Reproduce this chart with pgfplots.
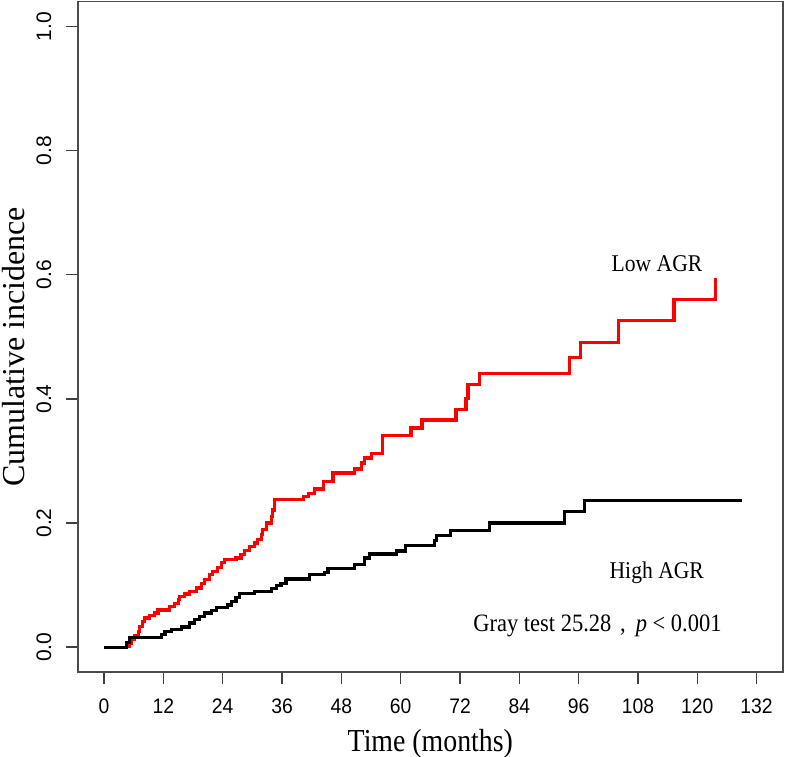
\documentclass[border=0pt]{standalone}
\usepackage{pgfplots}
\pgfplotsset{compat=1.18}
\usepackage{fontspec}
\setmainfont{Liberation Serif}
\newfontfamily\ticksans{Liberation Sans}
\newfontfamily\ticksansx[FakeStretch=0.92]{Liberation Sans}
\newfontfamily\labserif[FakeStretch=0.87]{Liberation Serif}
\newfontfamily\annserif[FakeStretch=0.9]{Liberation Serif}
\definecolor{lowred}{RGB}{255,0,0}
\begin{document}
\begin{tikzpicture}
\begin{axis}[
  name=ax,
  scale only axis,
  width=352.35pt, height=335.15pt,
  xmin=-5.28, xmax=137.28,
  ymin=-0.04, ymax=1.04,
  xtick={0,12,...,132},
  ytick={0,0.2,0.4,0.6,0.8,1},
  yticklabels={0.0,0.2,0.4,0.6,0.8,1.0},
  tick pos=left,
  tick align=outside,
  major tick length=6pt,
  every tick/.style={black!75, line width=0.7pt},
  axis line style={black!70, line width=0.8pt},
  /pgf/number format/assume math mode=true,
  xticklabel style={font=\ticksansx\fontsize{10.5}{12}\selectfont, anchor=center, yshift=-11pt},
  yticklabel style={font=\ticksans\fontsize{10.5}{12}\selectfont, xshift=-11pt, rotate=90, anchor=center},
  xlabel={Time (months)},
  ylabel={Cumulative incidence},
  xlabel style={font=\labserif\fontsize{16}{19}\selectfont, anchor=center, at={(axis description cs:0.5,0)}, yshift=-36pt},
  ylabel style={font=\fontsize{16}{19}\selectfont, anchor=center, at={(axis description cs:0,0.5)}, yshift=32pt, xshift=-5pt},
]
\addplot[const plot, lowred, line width=1.6pt] table {
t v
0 0
4.5 0.002
5.05 0.0067
5.5 0.013
6.2 0.0185
6.9 0.0255
7.2 0.0335
7.75 0.0416
8.2 0.047
9.2 0.0507
10.2 0.055
10.9 0.060
13.3 0.066
14.3 0.071
15.0 0.0765
15.3 0.082
16.3 0.0857
17.3 0.090
18.7 0.0953
19.7 0.102
20.3 0.109
21.4 0.117
22.0 0.122
23.0 0.129
23.7 0.1366
24.4 0.141
26.7 0.1436
27.7 0.149
28.4 0.156
29.4 0.162
30.4 0.168
31.1 0.174
31.8 0.181
32.1 0.189
32.8 0.200
33.8 0.2106
34.1 0.221
34.5 0.2375
40.3 0.2428
41.4 0.248
42.6 0.2547
44.4 0.267
46.3 0.2805
50.7 0.287
52.0 0.2966
52.7 0.3047
54.1 0.3127
56.4 0.341
62.1 0.353
64.3 0.366
71.2 0.3835
73.2 0.401
73.6 0.4227
75.9 0.4415
94.1 0.467
96.4 0.4915
104.0 0.5263
115.3 0.5596
123.7 0.5945
};
\addplot[const plot, black, line width=1.6pt] table {
t v
0 0
4.5 0.008
5.2 0.0158
11.6 0.021
12.3 0.025
13.6 0.029
15.6 0.0325
17.3 0.039
18.3 0.044
19.3 0.050
20.3 0.055
21.7 0.059
22.7 0.064
25.0 0.068
25.7 0.074
26.7 0.080
27.4 0.086
30.4 0.090
33.8 0.095
34.8 0.099
35.8 0.103
36.8 0.110
41.5 0.1165
44.6 0.120
45.3 0.1264
50.6 0.1328
52.7 0.1436
53.7 0.150
59.2 0.155
61.0 0.1634
66.8 0.172
67.2 0.180
70.0 0.1885
78.0 0.200
93.1 0.218
97.2 0.236
129.0 0.236
};
\node[font=\annserif\fontsize{12}{14}\selectfont, anchor=base, inner sep=0pt] at (axis cs:111.85,0.605) {Low AGR};
\node[font=\annserif\fontsize{12}{14}\selectfont, anchor=base, inner sep=0pt] at (axis cs:111.8,0.111) {High AGR};
\node[font=\annserif\fontsize{12.5}{14}\selectfont, anchor=base east, inner sep=0pt] at (axis cs:125.0,0.0254) {Gray test 25.28\hspace{0.35em},\hspace{0.4em}\textit{p} < 0.001};
\end{axis}
\pgfresetboundingbox
\path[use as bounding box] ([xshift=-39pt,yshift=-42pt]ax.south west) rectangle ([xshift=2.15pt,yshift=0.85pt]ax.north east);
\end{tikzpicture}
\end{document}
